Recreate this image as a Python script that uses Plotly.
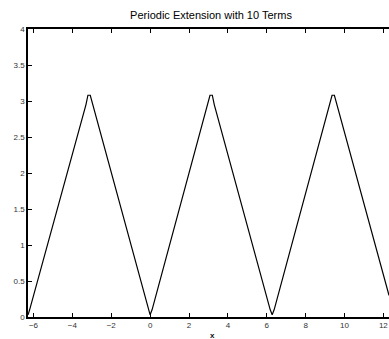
import plotly.graph_objects as go

# Values (polyline vertices)
x_vals = [-6.28, -6.2, -3.3, -3.2, -3.08, -2.98, -0.1, 0.0, 0.1, 2.98, 3.08, 3.2, 3.3,
          6.18, 6.28, 6.38, 9.26, 9.36, 9.48, 9.58, 12.29]
y_vals = [0.03, 0.1, 2.95, 3.08, 3.08, 2.98, 0.1, 0.03, 0.1, 2.98, 3.08, 3.08, 2.95,
          0.1, 0.03, 0.1, 2.95, 3.08, 3.08, 2.98, 0.3]

y_ticks = [0, 0.5, 1, 1.5, 2, 2.5, 3, 3.5, 4]
y_tick_text = ["0", "0.5", "1", "1.5", "2", "2.5", "3", "3.5", "4"]
x_ticks = [-6, -4, -2, 0, 2, 4, 6, 8, 10, 12]

fig = go.Figure()
fig.add_trace(go.Scatter(x=x_vals, y=y_vals, mode="lines",
                         line=dict(color="black", width=1.2), showlegend=False,
                         hoverinfo="skip"))

fig.update_layout(
    width=389, height=339,
    margin=dict(l=28, r=0, t=29, b=22, autoexpand=False),
    paper_bgcolor="white", plot_bgcolor="white",
    font=dict(family="Liberation Sans, Arial, sans-serif", color="black", size=8),
    title=dict(text="Periodic Extension with 10 Terms", x=0.5424, xref="container",
               xanchor="center", y=0.955, yanchor="middle",
               font=dict(size=11, color="black")),
    annotations=[dict(text="<b>x</b>", xref="paper", yref="paper", x=0.5117, y=-0.0642,
                      xanchor="center", yanchor="middle", showarrow=False, borderpad=0,
                      font=dict(size=8, color="#111"))],
)
fig.update_xaxes(range=[-6.283, 12.29], tickvals=x_ticks, ticks="inside", ticklen=4,
                 tickcolor="black", showline=True, linecolor="black", linewidth=1.5,
                 mirror="allticks", showgrid=False, zeroline=False, automargin=False,
                 ticklabeloverflow="allow",
                 tickfont=dict(size=8, color="#333"))
fig.update_yaxes(range=[0, 4], tickvals=y_ticks, ticktext=y_tick_text, ticks="inside",
                 ticklen=4, tickcolor="black", showline=True, linecolor="black",
                 linewidth=1.5, mirror=False, showgrid=False, zeroline=False,
                 automargin=False, tickfont=dict(size=8, color="#333"))

fig.write_html("out.html", config={"displayModeBar": False},
               post_script="document.body.style.margin='0';"
                           "document.body.style.overflow='hidden';")
